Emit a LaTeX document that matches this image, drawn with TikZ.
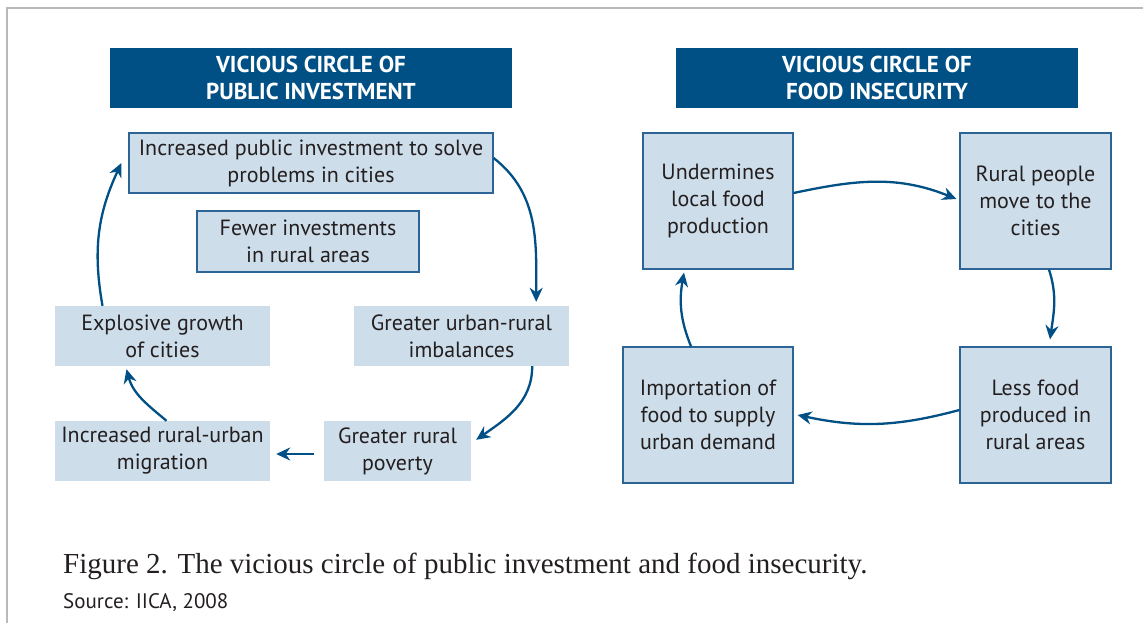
\documentclass[tikz,border=0pt]{standalone}
\usepackage{fontspec}
\setsansfont{PT Sans}
\setmainfont{Liberation Serif}
\usetikzlibrary{arrows.meta,calc}
\definecolor{dblue}{RGB}{0,80,134}
\definecolor{lblue}{RGB}{205,221,233}
\definecolor{bord}{RGB}{45,100,150}
\definecolor{txt}{RGB}{35,31,32}
\begin{document}
\begin{tikzpicture}[x=1pt,y=1pt,
 ttl/.style={fill=dblue,text=white,font=\sffamily\bfseries\fontsize{23}{27.5}\selectfont,align=center,inner sep=0,minimum width=402,minimum height=60},
 bx/.style={fill=lblue,text=txt,font=\sffamily\fontsize{22}{27}\selectfont,align=center,inner sep=0},
 bxd/.style={bx,draw=bord,line width=1.2},
 arr/.style={draw=dblue,line width=2.3,-{Stealth[length=14,width=13]}},
]
\useasboundingbox (0,0) rectangle (1143,-623);
\draw[gray!55,line width=1.5] (7,-623) -- (7,-8) -- (1143,-8);

% left diagram
\node[ttl] (t1) at (311,-78) {VICIOUS CIRCLE OF\\PUBLIC INVESTMENT};
\node[bxd,minimum width=364,minimum height=60] (b1) at (311,-163) {Increased public investment to solve\\problems in cities};
\node[bxd,minimum width=222,minimum height=61] (b2) at (308,-241.5) {Fewer investments\\in rural areas};
\node[bx,minimum width=215,minimum height=60] (b3) at (162.5,-336) {Explosive growth\\of cities};
\node[bx,minimum width=215,minimum height=60] (b4) at (461.5,-336) {Greater urban-rural\\imbalances};
\node[bx,minimum width=215,minimum height=60] (b5) at (162.5,-451) {Increased rural-urban\\migration};
\node[bx,minimum width=147,minimum height=60] (b6) at (397.5,-451) {Greater rural\\poverty};

\draw[arr] ([yshift=5]b1.east) to[out=-38,in=90] ($(b4.north east)+(-33,4)$);
\draw[arr] ($(b4.south east)+(-37,0)$) to[out=-90,in=35] ($(b6.north east)+(5,-19)$);
\draw[arr] ($(b6.west)+(-10,-3)$) -- ($(b5.east)+(6,-3)$);
\draw[arr] ($(b5.north)+(4,0)$) to[out=140,in=-75] ($(b3.south)+(-36,-3)$);
\draw[arr] ($(b3.north)+(-60,0)$) to[out=100,in=-115] ($(b1.west)+(-7,0)$);

% right diagram
\node[ttl] (t2) at (877,-78) {VICIOUS CIRCLE OF\\FOOD INSECURITY};
\node[bxd,minimum width=150,minimum height=136] (r1) at (718,-201) {Undermines\\local food\\production};
\node[bxd,minimum width=151,minimum height=136] (r2) at (1035.5,-201) {Rural people\\move to the\\cities};
\node[bxd,minimum width=170,minimum height=136] (r3) at (708,-415) {Importation of\\food to supply\\urban demand};
\node[bxd,minimum width=151,minimum height=136] (r4) at (1035.5,-415) {Less food\\produced in\\rural areas};

\draw[arr] ($(r1.east)+(0,8)$) to[out=12,in=158] ($(r2.west)+(-3,2)$);
\draw[arr] ($(r2.south)+(13.5,0)$) to[out=-72,in=82] ($(r4.north)+(14.5,7)$);
\draw[arr] ($(r4.west)+(0,5)$) to[out=195,in=-12] ($(r3.east)+(4,0)$);
\draw[arr] ($(r3.north)+(-17,0)$) to[out=112,in=-100] ($(r1.south)+(-34,-3)$);

% caption
\node[anchor=base west,inner sep=0,text=txt,font=\fontsize{29}{33}\selectfont] (cap) at (63,-573) {Figure 2. The vicious circle of public investment and food insecurity.};
\node[anchor=base west,inner sep=0,text=txt,font=\sffamily\fontsize{21}{24}\selectfont] (src) at (63,-608) {Source: IICA, 2008};
\end{tikzpicture}
\end{document}
